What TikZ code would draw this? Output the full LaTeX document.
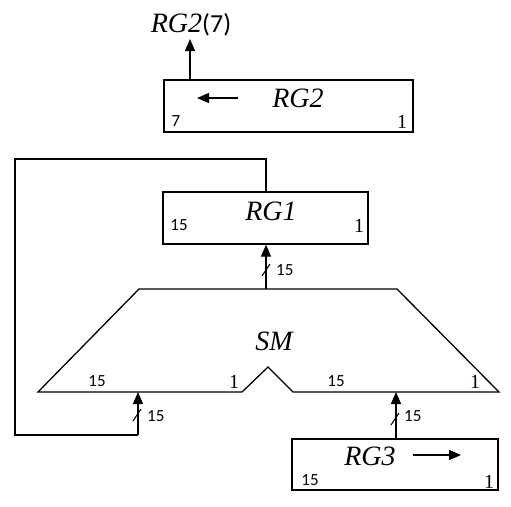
\documentclass[tikz,border=0pt]{standalone}
\usepackage{fontspec}
\setmainfont{Liberation Serif}
\newfontfamily\numfont{Carlito}
\usetikzlibrary{arrows.meta}
\tikzset{
  wire/.style={line width=1.3pt},
  bus/.style={wire, -{Triangle[length=12pt,width=10pt]}},
  reg/.style={draw, line width=1.3pt, rectangle, inner sep=0pt},
  regname/.style={font=\fontsize{28}{28}\selectfont\itshape, inner sep=0pt},
  bitno/.style={font=\numfont\fontsize{17}{17}\selectfont, inner sep=0pt},
  bitone/.style={font=\fontsize{20}{20}\selectfont, inner sep=0pt},
  shiftarrow/.style={line width=1.3pt, -{Triangle[length=12pt,width=10pt]}},
  slash/.style={line width=1pt}
}
\begin{document}
\begin{tikzpicture}[x=1pt,y=-1pt]
\useasboundingbox (0,0) rectangle (511,506);

% registers
\node[reg, minimum width=249pt, minimum height=52pt] (rg2) at (288.5,106) {};
\node[reg, minimum width=205pt, minimum height=52pt] (rg1) at (265.5,218) {};
\node[reg, minimum width=206pt, minimum height=51pt] (rg3) at (395,464.5) {};

% register labels and bit numbers
\node[regname] (rg2name) at (298,98) {RG2};
\node[bitno] (rg2hi) at (176,121) {7};
\node[bitone] (rg2lo) at (402,122) {1};
\coordinate (rg2s) at (238,98);
\coordinate (rg2e) at (197,98);
\draw[shiftarrow] (rg2s) -- (rg2e);

\node[regname] (rg1name) at (271,211) {RG1};
\node[bitno] (rg1hi) at (179,225) {15};
\node[bitone] (rg1lo) at (359,226) {1};

\node[regname] (rg3name) at (370,456) {RG3};
\node[bitno] (rg3hi) at (310,480) {15};
\node[bitone] (rg3lo) at (489,482) {1};
\coordinate (rg3s) at (413,455);
\coordinate (rg3e) at (461,455);
\draw[shiftarrow] (rg3s) -- (rg3e);

% output of RG2
\node[inner sep=0pt, anchor=base] (out) at (191,32)
  {\fontsize{28}{28}\selectfont\itshape RG2\upshape\numfont\fontsize{26}{26}\selectfont(7)};
\coordinate (outtip) at (190,39);
\draw[bus] (rg2.north -| outtip) -- (outtip);

% shifter SM
\coordinate (tl) at (139,289);
\coordinate (tr) at (397,289);
\coordinate (br) at (499,392);
\coordinate (nr) at (293,392);
\coordinate (nt) at (268,367);
\coordinate (nl) at (242,392);
\coordinate (bl) at (38,392);
\draw[wire, line join=miter] (tl) -- (tr) -- (br) -- (nr) -- (nt) -- (nl) -- (bl) -- cycle;
\node[regname] (smname) at (274,341) {SM};
\node[bitno] (smlhi) at (97,381) {15};
\node[bitone] (smllo) at (234,382) {1};
\node[bitno] (smrhi) at (336,381) {15};
\node[bitone] (smrlo) at (475,382) {1};

% SM -> RG1
\coordinate (smout) at (266,289);
\draw[bus] (smout) -- (rg1.south -| smout);
\draw[slash] (262,276) -- (270,264);
\node[bitno, anchor=west] (w1) at (276,270) {15};

% RG3 -> SM
\coordinate (smin2) at (396,392);
\draw[bus] (rg3.north -| smin2) -- (smin2);
\draw[slash] (391,425) -- (399,413);
\node[bitno, anchor=west] (w3) at (404,416) {15};

% feedback RG1 -> SM
\coordinate (smin1) at (138,392);
\coordinate (fb1) at (266,159);
\coordinate (fb2) at (15,159);
\coordinate (fb3) at (15,435);
\coordinate (fb4) at (138,435);
\draw[wire] (rg1.north -| fb1) -- (fb1) -- (fb2) -- (fb3) -- (fb4);
\draw[bus] (fb4) -- (smin1);
\draw[slash] (133,421) -- (141,409);
\node[bitno, anchor=west] (w2) at (147,416) {15};
\end{tikzpicture}
\end{document}
